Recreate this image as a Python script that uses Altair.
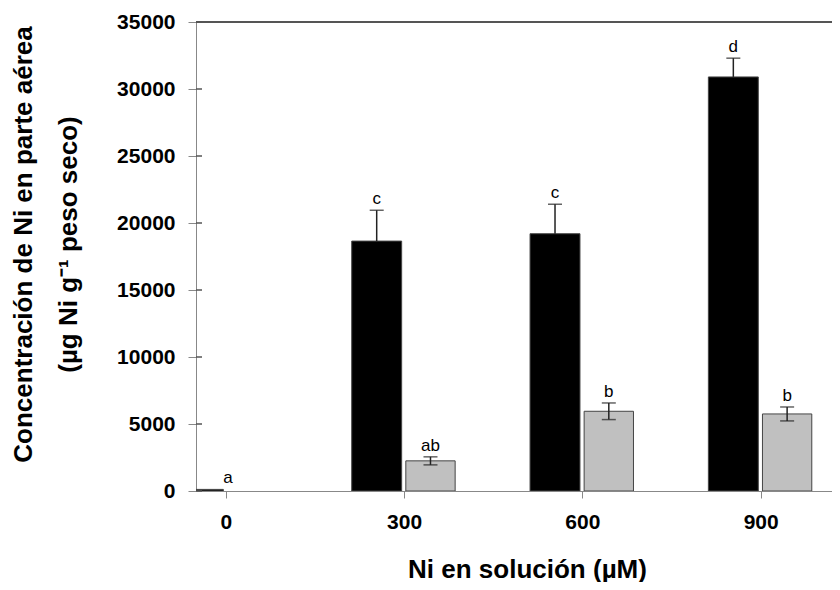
import altair as alt
import pandas as pd

# ---- data ----
conc = [0, 300, 600, 900]
black_mean = [120, 18650, 19200, 30900]
black_err = [0, 2300, 2200, 1400]
gray_mean = [0, 2250, 5950, 5750]
gray_err = [0, 300, 620, 520]
black_letters = ["a", "c", "c", "d"]
gray_letters = ["", "ab", "b", "b"]
y_ticks = [0, 5000, 10000, 15000, 20000, 25000, 30000, 35000]
x_ticks = [0, 300, 600, 900]

FONT = "Liberation Sans"
AX = "#555555"
XTITLE = "Ni en solución (µM)"
YTITLE = ["Concentración de Ni en parte aérea", "(µg Ni g⁻¹ peso seco)"]

rows = []
for c, m, e, l in zip(conc, black_mean, black_err, black_letters):
    rows.append(dict(serie="black", x0=c - 88, x1=c - 4, xc=c - 46,
                     lx=(c + 4 if c == 0 else c - 46),
                     mean=m, lo=m, hi=m + e, err=e, letter=l))
for c, m, e, l in zip(conc, gray_mean, gray_err, gray_letters):
    rows.append(dict(serie="gray", x0=c + 3, x1=c + 86, xc=c + 44.5,
                     lx=c + 44.5, mean=m, lo=m - e, hi=m + e, err=e, letter=l))
df = pd.DataFrame(rows)
df_bars = df[df["mean"] > 0]

xscale = alt.Scale(domain=[-50, 1020], nice=False, zero=False)
yscale = alt.Scale(domain=[0, 35000], nice=False)

xaxis = alt.Axis(values=x_ticks, title=XTITLE, format="d",
                 grid=False, tickSize=7, labelPadding=13,
                 labelFontSize=21, labelFontWeight="bold", labelColor="black",
                 titleFontSize=26, titleFontWeight="bold", titleColor="black",
                 titleX=331, titleY=65)
yaxis = alt.Axis(values=y_ticks, format="d", grid=False, tickSize=8, labelPadding=13,
                 labelFontSize=21, labelFontWeight="bold", labelColor="black",
                 title=YTITLE,
                 titleFontSize=26, titleFontWeight="bold", titleColor="black",
                 titleLineHeight=45, titleX=-160, titleY=222, titleAngle=270)

bars = alt.Chart(df_bars).mark_bar(clip=True, stroke="#444444", strokeWidth=1).encode(
    x=alt.X("x0:Q", scale=xscale, axis=xaxis),
    x2="x1:Q",
    y=alt.Y("mean:Q", scale=yscale, axis=yaxis),
    y2=alt.datum(0),
    color=alt.Color("serie:N", scale=alt.Scale(domain=["black", "gray"],
                                               range=["#000000", "#c0c0c0"]),
                    legend=None),
)

errdf = df[df["err"] > 0]
err_rule = alt.Chart(errdf).mark_rule(color="#222222", strokeWidth=1.5).encode(
    x=alt.X("xc:Q", title=XTITLE), y=alt.Y("lo:Q", title=YTITLE), y2="hi:Q")
cap_hi = alt.Chart(errdf).mark_tick(orient="horizontal", size=14, thickness=1.5,
                                    color="#222222").encode(
    x=alt.X("xc:Q", title=XTITLE), y=alt.Y("hi:Q", title=YTITLE))
cap_lo = alt.Chart(errdf[errdf["serie"] == "gray"]).mark_tick(
    orient="horizontal", size=14, thickness=1.5, color="#222222").encode(
    x=alt.X("xc:Q", title=XTITLE), y=alt.Y("lo:Q", title=YTITLE))

letters = alt.Chart(df[df["letter"] != ""]).mark_text(
    baseline="alphabetic", dy=-6, fontSize=17, font=FONT, color="black").encode(
    x=alt.X("lx:Q", title=XTITLE), y=alt.Y("hi:Q", title=YTITLE), text="letter:N")

top_line = alt.Chart(pd.DataFrame({"v": [35000]})).mark_rule(
    color=AX, strokeWidth=2).encode(y=alt.Y("v:Q", title=YTITLE))

inner_ticks = alt.Chart(pd.DataFrame({"v": y_ticks})).mark_rule(
    color=AX, strokeWidth=1.5).encode(
    y=alt.Y("v:Q", title=YTITLE), x=alt.value(0), x2=alt.value(6))

chart = alt.layer(bars, err_rule, cap_hi, cap_lo, letters, top_line, inner_ticks).properties(
    width=636, height=469,
    autosize=alt.AutoSizeParams(type="none"),
    padding={"left": 188, "top": 14, "right": 0, "bottom": 91},
).configure_view(stroke=None).configure_axis(
    domainColor=AX, domainWidth=1.5, tickColor=AX, tickWidth=1.5,
    labelFont=FONT, titleFont=FONT,
).configure(font=FONT)

chart.save("out.html", embed_options={"renderer": "svg", "actions": False})
